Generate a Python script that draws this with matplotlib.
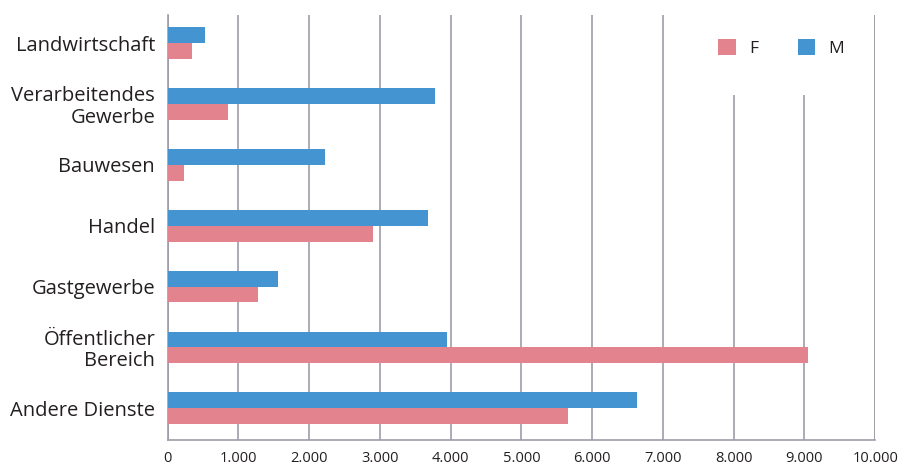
import matplotlib.pyplot as plt
import numpy as np
from matplotlib.ticker import FuncFormatter
from matplotlib.patches import Rectangle

categories = ["Landwirtschaft", "Verarbeitendes\nGewerbe", "Bauwesen", "Handel",
              "Gastgewerbe", "Öffentlicher\nBereich", "Andere Dienste"]
werte_m = [530, 3780, 2230, 3680, 1560, 3950, 6640]
werte_f = [340, 860, 230, 2900, 1280, 9050, 5660]
x_ticks = list(range(0, 10001, 1000))

blue = "#4394d0"
pink = "#e3838e"
text_col = "#231f20"
grid_col = "#9e9ca8"

plt.rcParams['font.family'] = ['Open Sans', 'DejaVu Sans']

fig = plt.figure(figsize=(9.06, 4.73), dpi=100)
ax = fig.add_axes([0.185, 0.07, 0.781, 0.898])

y = np.arange(len(categories))
h = 0.26
ax.barh(y - h / 2, werte_m, height=h, color=blue, label="M", zorder=3)
ax.barh(y + h / 2, werte_f, height=h, color=pink, label="F", zorder=3)

ax.set_xlim(0, 10000)
ax.set_ylim(6.52, -0.46)
ax.set_yticks(y)
ax.set_yticklabels(categories, fontsize=14.5, color=text_col, linespacing=1.1)
ax.set_xticks(x_ticks)
ax.xaxis.set_major_formatter(FuncFormatter(lambda v, p: f"{int(v):,}".replace(",", ".")))
ax.tick_params(axis='x', length=0, labelsize=10.5, colors=text_col, pad=8)
ax.tick_params(axis='y', length=0, pad=9)
ax.grid(axis='x', color=grid_col, linewidth=1.2, zorder=0)
ax.set_axisbelow(True)

for s in ['top', 'right']:
    ax.spines[s].set_visible(False)
ax.spines['left'].set_color(grid_col)
ax.spines['bottom'].set_color(grid_col)
ax.spines['left'].set_linewidth(1.2)
ax.spines['bottom'].set_linewidth(1.2)
ax.axvline(10000, color=grid_col, linewidth=1.2, zorder=5)

# white area behind the legend hides the grid lines there
ax.add_patch(Rectangle((0.752, 0.812), 0.241, 0.19, transform=ax.transAxes,
                       facecolor='white', edgecolor='none', zorder=2, clip_on=False))

handles, labels = ax.get_legend_handles_labels()
leg = ax.legend(handles[::-1], labels[::-1], loc='upper right', bbox_to_anchor=(0.99, 1.0),
                ncol=2, fontsize=12.5, frameon=False, borderpad=1.4,
                handlelength=1.0, handleheight=1.0, handletextpad=0.75,
                columnspacing=2.3, borderaxespad=0)
for t in leg.get_texts():
    t.set_color(text_col)
leg.set_zorder(4)

fig.savefig('out.png', dpi=100)
